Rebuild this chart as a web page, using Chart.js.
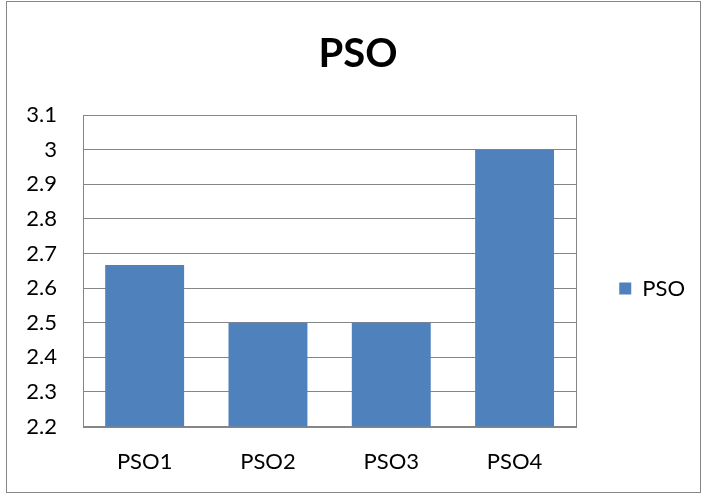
<!DOCTYPE html>
<html>
<head>
<meta charset="utf-8">
<script src="https://cdn.jsdelivr.net/npm/chart.js@4/dist/chart.umd.min.js"></script>
<style>
  html, body { margin: 0; padding: 0; background: #fff; }
  #wrap { width: 707px; height: 497px; position: relative; }
</style>
</head>
<body>
<div id="wrap"><canvas id="c" width="707" height="497"></canvas></div>
<script>
const categories = ['PSO1', 'PSO2', 'PSO3', 'PSO4'];
const seriesName = 'PSO';
const seriesValues = [2.667, 2.5, 2.5, 3.0];
const yMin = 2.2;
const yMax = 3.1;
const yStep = 0.1;
const titleText = 'PSO';

const frame = {
  id: 'frame',
  beforeDraw(chart) {
    const ctx = chart.ctx;
    ctx.save();
    ctx.fillStyle = '#ffffff';
    ctx.fillRect(0, 0, chart.width, chart.height);
    ctx.strokeStyle = '#868686';
    ctx.lineWidth = 1;
    ctx.strokeRect(6.5, 1.5, 694, 491);
    ctx.restore();
  },
  afterDatasetsDraw(chart) {
    const a = chart.chartArea;
    const ctx = chart.ctx;
    ctx.save();
    ctx.strokeStyle = '#868686';
    ctx.lineWidth = 1;
    ctx.strokeRect(Math.round(a.left) + 0.5, Math.round(a.top) + 0.5, Math.round(a.right - a.left), Math.round(a.bottom - a.top));
    ctx.restore();
  }
};

new Chart(document.getElementById('c'), {
  type: 'bar',
  data: {
    labels: categories,
    datasets: [{
      label: seriesName,
      data: seriesValues,
      backgroundColor: '#4F81BD',
      borderWidth: 0,
      categoryPercentage: 1,
      barPercentage: 0.64
    }]
  },
  options: {
    responsive: false,
    animation: false,
    devicePixelRatio: 1,
    layout: { padding: { top: 10, left: 21, right: 12, bottom: 0 } },
    font: { family: 'Lato' },
    plugins: {
      title: {
        display: true,
        text: titleText,
        color: '#000',
        font: { family: 'Lato', size: 40, weight: 'bold' },
        padding: { top: 20, bottom: 37 }
      },
      legend: {
        display: true,
        position: 'right',
        title: {
          display: true,
          text: ' ',
          font: { family: 'Lato', size: 10 },
          padding: { top: 58, bottom: 0 }
        },
        labels: {
          color: '#000',
          font: { family: 'Lato', size: 22 },
          boxWidth: 12,
          boxHeight: 12,
          padding: 43
        }
      },
      tooltip: { enabled: false }
    },
    scales: {
      x: {
        grid: { display: false, drawTicks: false },
        border: { display: true, color: '#868686' },
        ticks: { color: '#000', font: { family: 'Lato', size: 22 }, padding: 22 }
      },
      y: {
        min: yMin,
        max: yMax,
        afterFit: (scale) => { scale.width = 62; },
        grid: { color: '#868686', drawTicks: false },
        border: { display: true, color: '#868686' },
        ticks: {
          stepSize: yStep,
          color: '#000',
          font: { family: 'Lato', size: 22 },
          padding: 26,
          callback: (v) => String(Math.round(v * 10) / 10)
        }
      }
    }
  },
  plugins: [frame]
});
</script>
</body>
</html>
